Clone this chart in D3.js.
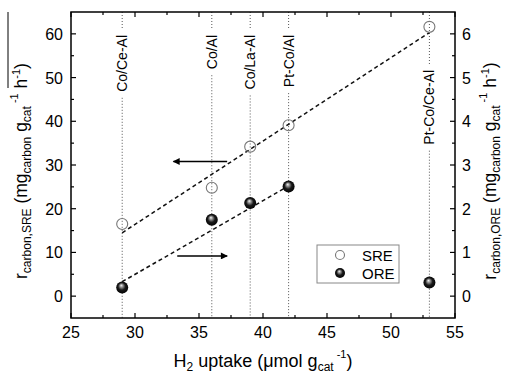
<!DOCTYPE html>
<html>
<head>
<meta charset="utf-8">
<script src="https://cdn.jsdelivr.net/npm/d3@7"></script>
<style>
  body { margin: 0; background: #fff; }
  svg { font-family: Arial, "Liberation Sans", sans-serif; }
</style>
</head>
<body>
<script>
var width = 510, height = 373;
var margin = {top: 12, right: 55, bottom: 55, left: 71};

// Catalysts and H2 uptake
var catalysts = ["Co/Ce-Al", "Co/Al", "Co/La-Al", "Pt-Co/Al", "Pt-Co/Ce-Al"];
var uptake = [29, 36, 39, 42, 53];
// carbon rates
var sreRate = [16.5, 24.8, 34.2, 39.1, 61.6];
var oreRate = [0.2, 1.75, 2.13, 2.51, 0.31];
// dashed fit lines (end points)
var sreFit = [[29, 14.5], [53, 60.3]];
var oreFit = [[29, 0.33], [42, 2.52]];
var xTicks = [25, 30, 35, 40, 45, 50, 55];
var yLeftTicks = [0, 10, 20, 30, 40, 50, 60];
var yRightTicks = [0, 1, 2, 3, 4, 5, 6];

var x = d3.scaleLinear().domain([25, 55]).range([margin.left, width - margin.right]);
var yL = d3.scaleLinear().domain([-5, 65]).range([height - margin.bottom, margin.top]);
var yR = d3.scaleLinear().domain([-0.5, 6.5]).range([height - margin.bottom, margin.top]);

var svg = d3.select("body").append("svg")
    .attr("width", width)
    .attr("height", height);

var defs = svg.append("defs");
var grad = defs.append("radialGradient").attr("id", "ball")
    .attr("cx", "50%").attr("cy", "50%").attr("r", "55%")
    .attr("fx", "42%").attr("fy", "32%");
grad.append("stop").attr("offset", "0%").attr("stop-color", "#f4f4f4");
grad.append("stop").attr("offset", "22%").attr("stop-color", "#9a9a9a");
grad.append("stop").attr("offset", "55%").attr("stop-color", "#1a1a1a");
grad.append("stop").attr("offset", "100%").attr("stop-color", "#000");

defs.append("marker").attr("id", "arrow")
    .attr("viewBox", "0 0 10 10").attr("refX", 9).attr("refY", 5)
    .attr("markerWidth", 9).attr("markerHeight", 7).attr("markerUnits", "userSpaceOnUse")
    .attr("orient", "auto")
  .append("path").attr("d", "M0,0L10,5L0,10Z").attr("fill", "#000");

var x0 = margin.left, x1 = width - margin.right;
var y0 = height - margin.bottom, y1 = margin.top;

// Vertical dotted lines + catalyst labels
uptake.forEach(function(u, i) {
  var px = x(u);
  var top = (i == 4 ? 70 : 35);
  var lab = svg.append("text")
      .attr("transform", "translate(" + (px + 5) + "," + top + ") rotate(-90)")
      .attr("text-anchor", "end")
      .attr("font-size", 14)
      .text(catalysts[i]);
  var len = lab.node().getComputedTextLength();
  svg.append("line")
      .attr("x1", px).attr("x2", px).attr("y1", y1).attr("y2", top - 5)
      .attr("stroke", "#555").attr("stroke-dasharray", "1,2");
  svg.append("line")
      .attr("x1", px).attr("x2", px).attr("y1", top + len + 6).attr("y2", y0)
      .attr("stroke", "#555").attr("stroke-dasharray", "1,2");
});

// Fit lines
var lineL = d3.line().x(function(d) { return x(d[0]); }).y(function(d) { return yL(d[1]); });
var lineR = d3.line().x(function(d) { return x(d[0]); }).y(function(d) { return yR(d[1]); });
svg.append("path").attr("d", lineL(sreFit)).attr("fill", "none")
    .attr("stroke", "#111").attr("stroke-width", 1.5).attr("stroke-dasharray", "4,3");
svg.append("path").attr("d", lineR(oreFit)).attr("fill", "none")
    .attr("stroke", "#111").attr("stroke-width", 1.5).attr("stroke-dasharray", "4,3");

// Points
svg.selectAll("circle.sre").data(uptake).enter().append("circle")
    .attr("class", "sre")
    .attr("cx", function(d) { return x(d); })
    .attr("cy", function(d, i) { return yL(sreRate[i]); })
    .attr("r", 5.5)
    .attr("fill", "none").attr("stroke", "#777").attr("stroke-width", 1.1);
svg.selectAll("circle.ore").data(uptake).enter().append("circle")
    .attr("class", "ore")
    .attr("cx", function(d) { return x(d); })
    .attr("cy", function(d, i) { return yR(oreRate[i]); })
    .attr("r", 6)
    .attr("fill", "url(#ball)");

// Arrows
svg.append("line").attr("x1", x(37.2)).attr("x2", x(33.0))
    .attr("y1", yL(30.8)).attr("y2", yL(30.8))
    .attr("stroke", "#000").attr("stroke-width", 1.5).attr("marker-end", "url(#arrow)");
svg.append("line").attr("x1", x(33.3)).attr("x2", x(37.2))
    .attr("y1", yL(9.2)).attr("y2", yL(9.2))
    .attr("stroke", "#000").attr("stroke-width", 1.5).attr("marker-end", "url(#arrow)");

// Axes frame
svg.append("rect").attr("x", x0).attr("y", y1).attr("width", x1 - x0).attr("height", y0 - y1)
    .attr("fill", "none").attr("stroke", "#000").attr("stroke-width", 1.5);

function ticks(vals, minorStep, fn) {
  var lo = vals[0], hi = vals[vals.length - 1];
  for (var v = lo; v <= hi + 1e-9; v += minorStep) {
    var isMajor = vals.some(function(t) { return Math.abs(t - v) < 1e-6; });
    fn(v, isMajor ? 5 : 3);
  }
}
var tk = svg.append("g").attr("stroke", "#000").attr("stroke-width", 1.2);
ticks(xTicks, 2.5, function(v, l) {
  tk.append("line").attr("x1", x(v)).attr("x2", x(v)).attr("y1", y0).attr("y2", y0 - l);
  tk.append("line").attr("x1", x(v)).attr("x2", x(v)).attr("y1", y1).attr("y2", y1 + l);
});
ticks([-5].concat(yLeftTicks).concat([65]), 5, function(v, l) {
  if (v < -4 || v > 64) return;
  tk.append("line").attr("x1", x0).attr("x2", x0 + l).attr("y1", yL(v)).attr("y2", yL(v));
});
ticks([-0.5].concat(yRightTicks).concat([6.5]), 0.5, function(v, l) {
  if (v < -0.4 || v > 6.4) return;
  tk.append("line").attr("x1", x1).attr("x2", x1 - l).attr("y1", yR(v)).attr("y2", yR(v));
});

// Tick labels
svg.selectAll("text.xt").data(xTicks).enter().append("text")
    .attr("x", function(d) { return x(d); }).attr("y", y0 + 20)
    .attr("text-anchor", "middle").attr("font-size", 16).text(function(d) { return d; });
svg.selectAll("text.yl").data(yLeftTicks).enter().append("text")
    .attr("x", x0 - 8).attr("y", function(d) { return yL(d) + 6; })
    .attr("text-anchor", "end").attr("font-size", 16).text(function(d) { return d; });
svg.selectAll("text.yr").data(yRightTicks).enter().append("text")
    .attr("x", x1 + 7).attr("y", function(d) { return yR(d) + 6; })
    .attr("text-anchor", "start").attr("font-size", 16).text(function(d) { return d; });

// Axis titles
function rateTitle(g, sub) {
  g.append("tspan").text("r");
  g.append("tspan").attr("font-size", 12).attr("dy", 4).text("carbon," + sub);
  g.append("tspan").attr("dy", -4).text(" (mg");
  g.append("tspan").attr("font-size", 12).attr("dy", 4).text("carbon");
  g.append("tspan").attr("dy", -4).text(" g");
  g.append("tspan").attr("font-size", 12).attr("dy", 4).text("cat");
  g.append("tspan").attr("font-size", 11).attr("dy", -13).text(" -1");
  g.append("tspan").attr("dy", 9).text(" h");
  g.append("tspan").attr("font-size", 11).attr("dy", -7).text("-1");
  g.append("tspan").attr("dy", 7).text(")");
}
rateTitle(svg.append("text").attr("font-size", 17.5).attr("text-anchor", "middle")
    .attr("transform", "translate(27,171) rotate(-90)"), "SRE");
rateTitle(svg.append("text").attr("font-size", 17.5).attr("text-anchor", "middle")
    .attr("transform", "translate(496,171) rotate(-90)"), "ORE");

var xt = svg.append("text").attr("font-size", 18).attr("text-anchor", "middle")
    .attr("x", 263).attr("y", 367);
xt.append("tspan").text("H");
xt.append("tspan").attr("font-size", 12).attr("dy", 4).text("2");
xt.append("tspan").attr("dy", -4).text(" uptake (\u03bcmol g");
xt.append("tspan").attr("font-size", 12).attr("dy", 4).text("cat");
xt.append("tspan").attr("font-size", 11).attr("dy", -13).text(" -1");
xt.append("tspan").attr("dy", 9).text(")");

// stray line near left title
svg.append("line").attr("x1", 8).attr("x2", 8).attr("y1", 12).attr("y2", 88)
    .attr("stroke", "#000").attr("stroke-width", 1);

// Legend
var lg = svg.append("g").attr("transform", "translate(317,245)");
lg.append("rect").attr("width", 82).attr("height", 38)
    .attr("fill", "#fff").attr("stroke", "#888").attr("stroke-width", 1);
lg.append("circle").attr("cx", 23).attr("cy", 10).attr("r", 4.5)
    .attr("fill", "none").attr("stroke", "#777").attr("stroke-width", 1.1);
lg.append("circle").attr("cx", 23).attr("cy", 28).attr("r", 5).attr("fill", "url(#ball)");
lg.append("text").attr("x", 45).attr("y", 16).attr("font-size", 15).text("SRE");
lg.append("text").attr("x", 45).attr("y", 34).attr("font-size", 15).text("ORE");
</script>
</body>
</html>
